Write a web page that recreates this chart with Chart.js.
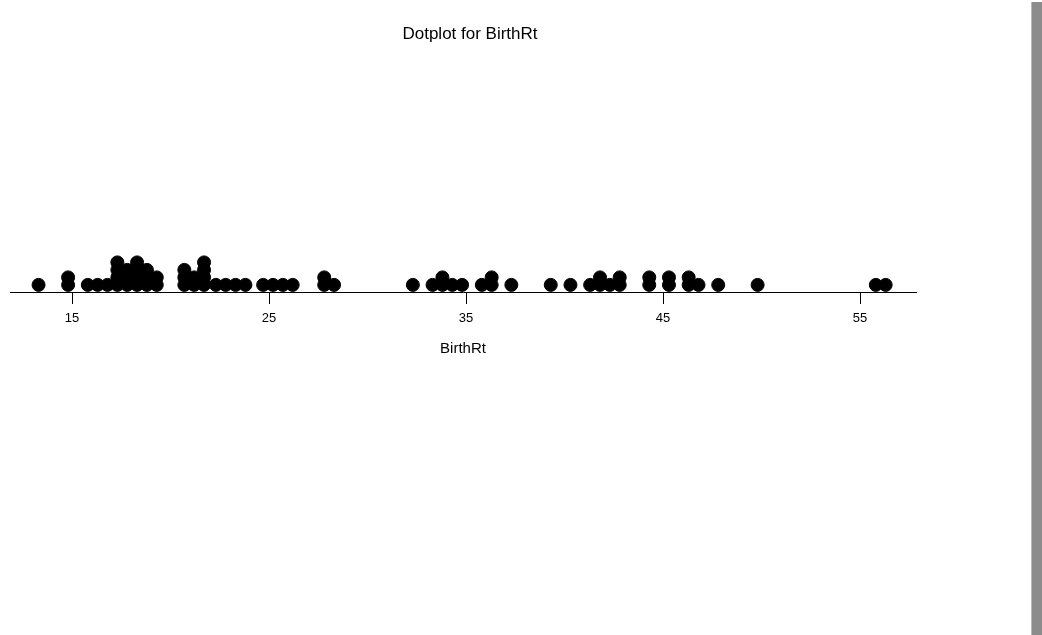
<!DOCTYPE html>
<html>
<head>
<meta charset="utf-8">
<script src="https://cdn.jsdelivr.net/npm/chart.js@4"></script>
<style>
  body { margin: 0; background: #fff; }
  #wrap { position: relative; width: 1042px; height: 635px; }
  #bar { position: absolute; left: 1031px; top: 2px; width: 11px; height: 633px;
         background: #8c8c8c; border-left: 1px solid #b8b8b8; box-sizing: border-box; }
</style>
</head>
<body>
<div id="wrap">
  <canvas id="dotplot" width="1042" height="635"></canvas>
  <div id="bar"></div>
</div>
<script>
const birthRates = [
    13.3,
    14.8, 14.8,
    15.8, 16.3, 16.8,
    17.3, 17.3, 17.3, 17.3,
    17.8, 17.8, 17.8,
    18.3, 18.3, 18.3, 18.3,
    18.8, 18.8, 18.8,
    19.3, 19.3,
    20.7, 20.7, 20.7,
    21.2, 21.2,
    21.7, 21.7, 21.7, 21.7,
    22.3, 22.8, 23.3, 23.8,
    24.7, 25.2, 25.7, 26.2,
    27.8, 27.8, 28.3,
    32.3, 33.3, 33.8, 33.8, 34.3, 34.8,
    35.8, 36.3, 36.3, 37.3,
    39.3, 40.3, 41.3, 41.8, 41.8, 42.3, 42.8, 42.8,
    44.3, 44.3, 45.3, 45.3, 46.3, 46.3, 46.8, 47.8,
    49.8, 55.8, 56.3
];
const tickValues = [15, 25, 35, 45, 55];
const xRange = [11.85, 57.84];

// stack equal values on top of each other
const stackCount = {};
const dots = birthRates.map(v => {
    stackCount[v] = (stackCount[v] || 0) + 1;
    return { x: v, y: stackCount[v] };
});

const titlePlugin = {
    id: 'plotTitle',
    afterDraw(chart) {
        const ctx = chart.ctx;
        ctx.save();
        ctx.fillStyle = '#000';
        ctx.font = '17px "Liberation Sans", Arial, sans-serif';
        ctx.textAlign = 'center';
        ctx.textBaseline = 'middle';
        ctx.fillText('Dotplot for BirthRt', 470, 34);
        ctx.restore();
    }
};

const dotplotElement = document.getElementById('dotplot').getContext('2d');

const dotplotChart = new Chart(dotplotElement, {
    type: 'scatter',
    data: {
        datasets: [{
            label: 'BirthRt',
            data: dots,
            backgroundColor: '#000',
            borderColor: '#000',
            pointRadius: 6.5,
            pointHoverRadius: 6.5
        }]
    },
    options: {
        responsive: false,
        animation: false,
        layout: { padding: { left: 10, right: 126, top: 60, bottom: 273 } },
        plugins: {
            legend: { display: false },
            tooltip: { enabled: false }
        },
        scales: {
            x: {
                type: 'linear',
                min: xRange[0],
                max: xRange[1],
                afterBuildTicks: scale => {
                    scale.ticks = tickValues.map(v => ({ value: v }));
                },
                afterFit: scale => { scale.height = 70; },
                grid: {
                    drawOnChartArea: false,
                    drawTicks: true,
                    tickLength: 12,
                    color: '#000'
                },
                border: { color: '#000', width: 1 },
                ticks: {
                    color: '#000',
                    font: { family: '"Liberation Sans", Arial, sans-serif', size: 13 },
                    padding: 7,
                    maxRotation: 0
                },
                title: {
                    display: true,
                    text: 'BirthRt',
                    color: '#000',
                    font: { family: '"Liberation Sans", Arial, sans-serif', size: 15 },
                    padding: { top: 4 }
                }
            },
            y: {
                display: false,
                min: 0.05,
                max: 31
            }
        }
    },
    plugins: [titlePlugin]
});
</script>
</body>
</html>
